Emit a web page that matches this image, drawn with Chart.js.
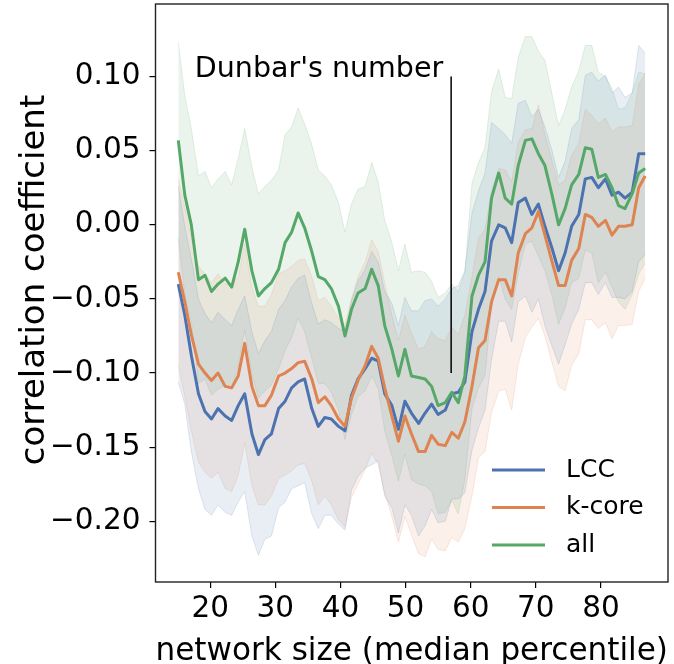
<!DOCTYPE html>
<html>
<head>
<meta charset="utf-8">
<script src="https://cdn.jsdelivr.net/npm/chart.js@4.4.1/dist/chart.umd.min.js"></script>
<style>
  html, body { margin: 0; padding: 0; background: #fff; }
  canvas { display: block; }
</style>
</head>
<body>
<canvas id="corr" width="674" height="664"></canvas>
<script>
// median percentile of each network-size window
const medianPct = [15.1, 16.1, 17.1, 18.2, 19.2, 20.2, 21.2, 22.3, 23.3, 24.3,
  25.3, 26.4, 27.4, 28.4, 29.4, 30.5, 31.5, 32.5, 33.5, 34.5,
  35.6, 36.6, 37.6, 38.6, 39.7, 40.7, 41.7, 42.7, 43.8, 44.8,
  45.8, 46.8, 47.9, 48.9, 49.9, 50.9, 52.0, 53.0, 54.0, 55.0,
  56.1, 57.1, 58.1, 59.1, 60.2, 61.2, 62.2, 63.2, 64.3, 65.3,
  66.3, 67.3, 68.4, 69.4, 70.4, 71.4, 72.5, 73.5, 74.5, 75.5,
  76.6, 77.6, 78.6, 79.6, 80.7, 81.7, 82.7, 83.7, 84.8, 85.8, 86.8];

// mean correlation per window
const lccMean = [-0.040, -0.061, -0.088, -0.114, -0.126, -0.131, -0.124, -0.129, -0.132, -0.122,
  -0.114, -0.141, -0.155, -0.145, -0.141, -0.124, -0.119, -0.110, -0.106, -0.104,
  -0.124, -0.136, -0.130, -0.131, -0.136, -0.139, -0.115, -0.104, -0.097, -0.090,
  -0.092, -0.114, -0.122, -0.138, -0.119, -0.127, -0.134, -0.127, -0.121, -0.128,
  -0.125, -0.114, -0.113, -0.106, -0.072, -0.057, -0.045, -0.011, 0.000, -0.002,
  -0.012, 0.015, 0.018, 0.007, 0.014, -0.001, -0.016, -0.031, -0.019, -0.001,
  0.007, 0.031, 0.032, 0.025, 0.031, 0.020, 0.022, 0.018, 0.022, 0.048, 0.048];
const kcoreMean = [-0.032, -0.052, -0.074, -0.094, -0.100, -0.105, -0.100, -0.109, -0.110, -0.102,
  -0.080, -0.109, -0.122, -0.122, -0.115, -0.102, -0.100, -0.097, -0.093, -0.092,
  -0.104, -0.120, -0.116, -0.122, -0.131, -0.136, -0.117, -0.105, -0.095, -0.082,
  -0.090, -0.110, -0.129, -0.146, -0.129, -0.141, -0.153, -0.153, -0.142, -0.148,
  -0.149, -0.140, -0.144, -0.133, -0.109, -0.083, -0.078, -0.052, -0.037, -0.037,
  -0.048, -0.019, -0.006, -0.002, 0.009, -0.007, -0.025, -0.041, -0.041, -0.024,
  -0.016, 0.007, 0.005, -0.001, 0.003, -0.007, -0.001, -0.001, 0.000, 0.025, 0.033];
const allMean = [0.057, 0.020, 0.000, -0.037, -0.034, -0.045, -0.040, -0.036, -0.042, -0.025,
  -0.003, -0.031, -0.048, -0.043, -0.039, -0.030, -0.012, -0.005, 0.008, -0.002,
  -0.018, -0.035, -0.037, -0.043, -0.055, -0.075, -0.057, -0.046, -0.043, -0.030,
  -0.041, -0.068, -0.084, -0.102, -0.084, -0.102, -0.103, -0.104, -0.109, -0.122,
  -0.120, -0.113, -0.120, -0.102, -0.048, -0.034, -0.025, 0.018, 0.035, 0.018,
  0.014, 0.040, 0.057, 0.058, 0.048, 0.040, 0.020, 0.000, 0.011, 0.027,
  0.034, 0.052, 0.051, 0.032, 0.034, 0.025, 0.013, 0.011, 0.021, 0.035, 0.038];

// half-width of the confidence band
const lccCi = [0.066, 0.060, 0.065, 0.064, 0.066, 0.065, 0.065, 0.065, 0.064, 0.065,
  0.066, 0.069, 0.068, 0.067, 0.069, 0.067, 0.068, 0.068, 0.070, 0.070,
  0.071, 0.069, 0.066, 0.065, 0.066, 0.067, 0.064, 0.066, 0.067, 0.072,
  0.067, 0.069, 0.069, 0.070, 0.070, 0.069, 0.076, 0.076, 0.071, 0.073,
  0.075, 0.071, 0.072, 0.075, 0.080, 0.080, 0.080, 0.080, 0.065, 0.063,
  0.067, 0.067, 0.066, 0.066, 0.064, 0.067, 0.066, 0.063, 0.062, 0.066,
  0.064, 0.070, 0.071, 0.072, 0.070, 0.069, 0.071, 0.068, 0.067, 0.073, 0.068];
const kcoreCi = [0.063, 0.064, 0.065, 0.066, 0.067, 0.066, 0.067, 0.069, 0.070, 0.067,
  0.067, 0.067, 0.067, 0.067, 0.068, 0.069, 0.069, 0.069, 0.069, 0.069,
  0.069, 0.069, 0.067, 0.067, 0.068, 0.068, 0.067, 0.070, 0.070, 0.072,
  0.072, 0.071, 0.068, 0.068, 0.068, 0.068, 0.069, 0.071, 0.070, 0.071,
  0.071, 0.071, 0.070, 0.072, 0.074, 0.074, 0.075, 0.075, 0.075, 0.074,
  0.077, 0.075, 0.070, 0.067, 0.072, 0.068, 0.068, 0.068, 0.071, 0.071,
  0.071, 0.071, 0.069, 0.069, 0.069, 0.070, 0.067, 0.067, 0.067, 0.070, 0.069];
const allCi = [0.066, 0.067, 0.065, 0.070, 0.070, 0.070, 0.071, 0.072, 0.069, 0.070,
  0.068, 0.070, 0.069, 0.069, 0.069, 0.067, 0.073, 0.071, 0.071, 0.070,
  0.072, 0.072, 0.070, 0.070, 0.070, 0.070, 0.071, 0.070, 0.069, 0.072,
  0.070, 0.071, 0.072, 0.071, 0.071, 0.070, 0.072, 0.072, 0.071, 0.073,
  0.074, 0.073, 0.075, 0.070, 0.076, 0.076, 0.077, 0.072, 0.070, 0.068,
  0.071, 0.073, 0.070, 0.069, 0.069, 0.071, 0.068, 0.067, 0.067, 0.066,
  0.070, 0.069, 0.070, 0.071, 0.066, 0.067, 0.065, 0.068, 0.068, 0.068, 0.064];

const xTicks = [20, 30, 40, 50, 60, 70, 80];
const yTicks = [-0.20, -0.15, -0.10, -0.05, 0.00, 0.05, 0.10];

// Dunbar's number marker
const dunbarPct = 57;
const dunbarSpan = [-0.10, 0.10];

const FONT = "'DejaVu Sans', sans-serif";

const series = [
  { label: 'LCC', mean: lccMean, ci: lccCi, rgb: '76, 114, 176' },
  { label: 'k-core', mean: kcoreMean, ci: kcoreCi, rgb: '221, 132, 82' },
  { label: 'all', mean: allMean, ci: allCi, rgb: '85, 168, 104' },
];

const pts = ys => ys.map((y, i) => ({ x: medianPct[i], y }));

const bands = [];
const lines = [];
series.forEach((s, k) => {
  bands.push({
    data: pts(s.mean.map((m, i) => m + s.ci[i])),
    fill: '+1',
    backgroundColor: `rgba(${s.rgb}, 0.12)`,
    borderColor: `rgba(${s.rgb}, 0.16)`,
    borderWidth: 1,
    pointRadius: 0,
    order: 10,
  }, {
    data: pts(s.mean.map((m, i) => m - s.ci[i])),
    fill: false,
    borderColor: `rgba(${s.rgb}, 0.16)`,
    borderWidth: 1,
    pointRadius: 0,
    order: 10,
  });
  lines.push({
    label: s.label,
    data: pts(s.mean),
    borderColor: `rgb(${s.rgb})`,
    borderWidth: 3,
    borderJoinStyle: 'round',
    pointRadius: 0,
    fill: false,
    order: 3 - k,
  });
});

// frame, y title, Dunbar marker and legend
const decor = {
  id: 'decor',
  afterDraw(chart) {
    const { ctx, chartArea: a, scales: { x, y } } = chart;
    ctx.save();

    ctx.save();
    ctx.translate(44, (a.top + a.bottom) / 2 - 13);
    ctx.rotate(-Math.PI / 2);
    ctx.font = `34px ${FONT}`;
    ctx.fillStyle = '#000';
    ctx.textAlign = 'center';
    ctx.textBaseline = 'alphabetic';
    ctx.fillText('correlation coefficient', 0, 0);
    ctx.restore();

    const dx = x.getPixelForValue(dunbarPct);
    const dTop = y.getPixelForValue(dunbarSpan[1]);
    ctx.strokeStyle = '#000';
    ctx.lineWidth = 1.5;
    ctx.beginPath();
    ctx.moveTo(dx, y.getPixelForValue(dunbarSpan[0]));
    ctx.lineTo(dx, dTop);
    ctx.stroke();
    ctx.font = `28.5px ${FONT}`;
    ctx.fillStyle = '#000';
    ctx.textAlign = 'right';
    ctx.textBaseline = 'alphabetic';
    ctx.fillText("Dunbar's number", dx - 8, dTop);

    ctx.font = `25px ${FONT}`;
    ctx.textAlign = 'left';
    ctx.textBaseline = 'middle';
    lines.forEach((ds, i) => {
      const ly = a.bottom - 112 + i * 37.5;
      ctx.strokeStyle = ds.borderColor;
      ctx.lineWidth = 3;
      ctx.beginPath();
      ctx.moveTo(a.right - 176, ly);
      ctx.lineTo(a.right - 123, ly);
      ctx.stroke();
      ctx.fillStyle = '#000';
      ctx.fillText(ds.label, a.right - 102, ly);
    });

    ctx.strokeStyle = '#222';
    ctx.lineWidth = 1.4;
    ctx.strokeRect(a.left, a.top, a.right - a.left, a.bottom - a.top);
    ctx.restore();
  }
};

const tickFont = { family: FONT, size: 29.5 };

new Chart(document.getElementById('corr'), {
  type: 'line',
  data: { datasets: [...bands, ...lines] },
  options: {
    responsive: false,
    animation: false,
    layout: { padding: { top: 4, right: 6, left: 0, bottom: 0 } },
    plugins: {
      legend: { display: false },
      tooltip: { enabled: false },
    },
    elements: { line: { tension: 0 } },
    scales: {
      x: {
        type: 'linear',
        min: 11.6,
        max: 90.3,
        afterBuildTicks: s => { s.ticks = xTicks.map(v => ({ value: v })); },
        afterFit: s => { s.height = 82; s.paddingLeft = 0; s.paddingRight = 0; },
        grid: { drawOnChartArea: false, tickLength: 6, color: '#000', lineWidth: 1.2 },
        border: { display: false },
        ticks: { font: tickFont, color: '#000', padding: 4, maxRotation: 0, autoSkip: false },
        title: {
          display: true,
          text: 'network size (median percentile)',
          font: { family: FONT, size: 31.3, lineHeight: 0.8 },
          color: '#000',
          padding: { top: 0, bottom: 0 },
        },
      },
      y: {
        type: 'linear',
        min: -0.241,
        max: 0.149,
        afterBuildTicks: s => { s.ticks = yTicks.map(v => ({ value: v })); },
        afterFit: s => { s.width = 155.5; s.paddingTop = 0; s.paddingBottom = 0; },
        grid: { drawOnChartArea: false, tickLength: 6, color: '#000', lineWidth: 1.2 },
        border: { display: false },
        ticks: {
          font: tickFont,
          color: '#000',
          padding: 9,
          autoSkip: false,
          callback: v => (v < -1e-9 ? '\u2212' : '') + Math.abs(v).toFixed(2),
        },
      },
    },
  },
  plugins: [decor],
});
</script>
</body>
</html>
